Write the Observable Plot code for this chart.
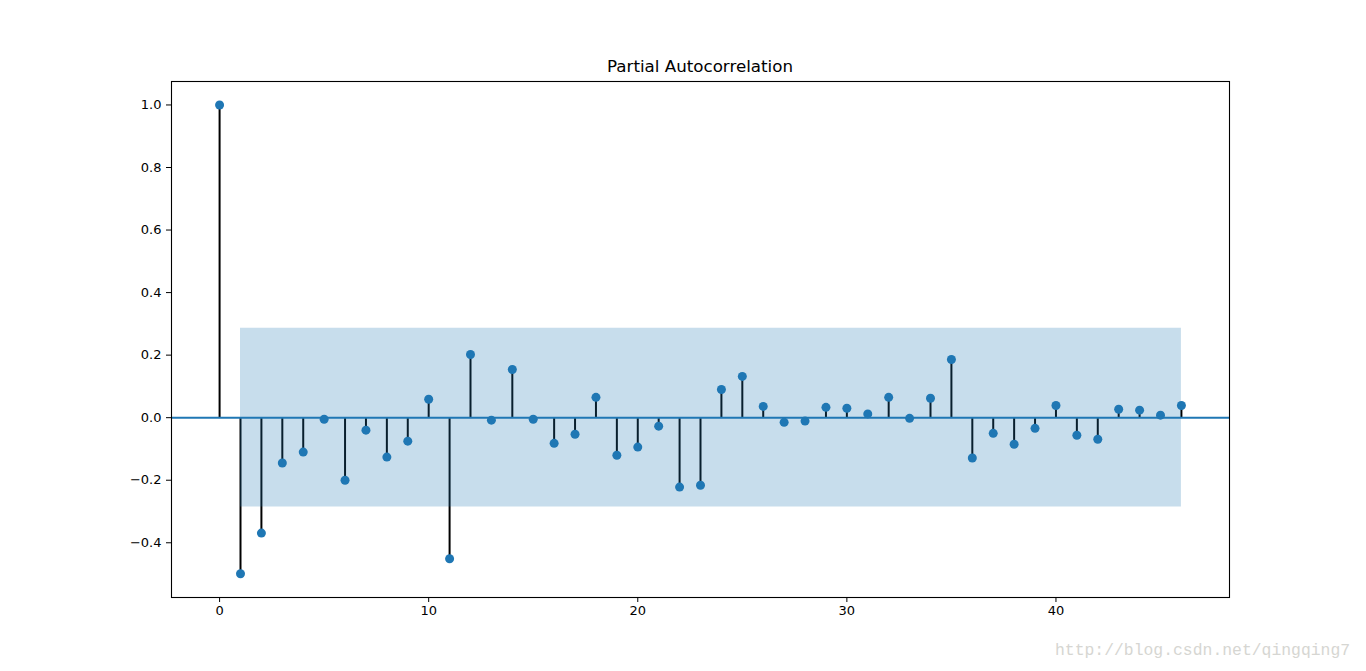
<!DOCTYPE html>
<html><head><meta charset="utf-8">
<script src="https://cdn.jsdelivr.net/npm/d3@7"></script>
<script src="https://cdn.jsdelivr.net/npm/@observablehq/plot@0.6"></script>
<style>
body{margin:0;background:#fff;}
#wrap{position:relative;width:1366px;height:671px;font-family:"DejaVu Sans",sans-serif;overflow:hidden;}
#chart{position:absolute;left:0;top:0;}
#title{position:absolute;left:171px;width:1058px;top:56px;text-align:center;font-size:16.7px;line-height:20px;color:#000;}
#wm{position:absolute;left:1055px;top:641px;font-family:"Liberation Mono",monospace;font-size:16.4px;color:#d6d6d2;line-height:20px;white-space:nowrap;}
</style></head>
<body><div id="wrap"><div id="chart"></div><div id="title">Partial Autocorrelation</div><div id="wm">http://blog.csdn.net/qingqing7</div></div>
<script>
const lags = [0,1,2,3,4,5,6,7,8,9,10,11,12,13,14,15,16,17,18,19,20,21,22,23,24,25,26,27,28,29,30,31,32,33,34,35,36,37,38,39,40,41,42,43,44,45,46];
const pacf = [1.0,-0.499,-0.369,-0.145,-0.110,-0.005,-0.200,-0.040,-0.126,-0.075,0.059,-0.451,0.202,-0.008,0.154,-0.005,-0.082,-0.053,0.065,-0.120,-0.094,-0.027,-0.222,-0.216,0.090,0.132,0.036,-0.015,-0.011,0.033,0.030,0.012,0.065,-0.002,0.062,0.186,-0.129,-0.050,-0.085,-0.034,0.039,-0.056,-0.069,0.027,0.024,0.008,0.039];
const bandLags = [1,46];
const confHalf = 0.286;
const xTicks = [0,10,20,30,40];
const yTicks = [-0.4,-0.2,0.0,0.2,0.4,0.6,0.8,1.0];

const data = lags.map((lag,i)=>({lag, value:pacf[i]}));
const band = bandLags.map(lag=>({lag, lo:-confHalf, hi:confHalf}));
const fmt = d3.format(".1f");

const chart = Plot.plot({
  width:1366, height:671,
  marginLeft:171, marginRight:137, marginTop:81, marginBottom:74,
  style:{fontFamily:"DejaVu Sans", fontSize:"13px", background:"white", color:"black"},
  x:{domain:[-2.3,48.3]},
  y:{domain:[-0.575,1.075]},
  marks:[
    Plot.ruleX(data,{x:"lag", y1:0, y2:"value", stroke:"black", strokeWidth:2}),
    Plot.ruleY([0],{stroke:"#1f77b4", strokeWidth:2}),
    Plot.dot(data,{x:"lag", y:"value", r:4.5, fill:"#1f77b4", stroke:"none"}),
    Plot.areaY(band,{x:"lag", y1:"lo", y2:"hi", fill:"#1f77b4", fillOpacity:0.25}),
    Plot.frame({stroke:"black", strokeWidth:1.1}),
    Plot.axisX({ticks:xTicks, tickSize:5, tickPadding:3, label:null, tickFormat:"d", fontSize:13}),
    Plot.axisY({ticks:yTicks, tickSize:5, tickPadding:5, label:null, tickFormat:fmt, fontSize:13})
  ]
});
document.getElementById("chart").appendChild(chart);
</script>
</body></html>
